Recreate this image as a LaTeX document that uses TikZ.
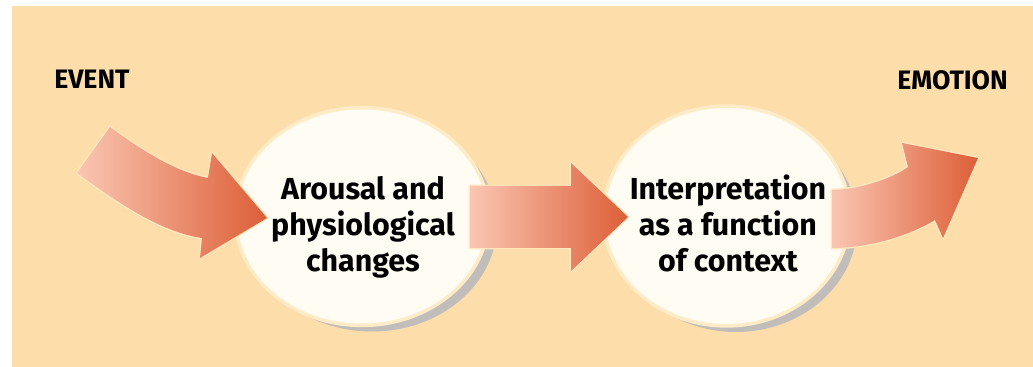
\documentclass[tikz,border=0pt]{standalone}
\usepackage{fontspec}
\setmainfont{Fira Sans}
\usetikzlibrary{shapes.geometric}
\definecolor{bgc}{RGB}{253,221,170}
\definecolor{circc}{RGB}{255,252,243}
\definecolor{haloc}{RGB}{254,236,200}
\definecolor{shadc}{RGB}{192,189,186}
\definecolor{arrlight}{RGB}{250,198,178}
\definecolor{arrdark}{RGB}{221,94,56}
\definecolor{glowc}{RGB}{254,232,188}
\begin{document}
\begin{tikzpicture}[x=0.75pt,y=-0.75pt,
  label/.style={inner sep=0pt,anchor=base west,font=\fontsize{20}{24}\selectfont\bfseries},
  stage/.style={ellipse,inner sep=0pt,fill=circc},
  shadowell/.style={ellipse,inner sep=0pt,fill=shadc},
  haloell/.style={ellipse,inner sep=0pt,fill=haloc},
  stagetext/.style={inner sep=0pt,anchor=base,align=center,font=\fontsize{22.8}{27}\selectfont\bfseries},
  blockarrow/.style={left color=arrlight,right color=arrdark,
     preaction={draw=glowc,line width=2pt,line join=round}}]
\useasboundingbox (0,0) rectangle (1033,367);
\fill[white] (0,0) rectangle (1033,367);
\fill[bgc] (12,6) rectangle (1033,367);

% labels
\node[label] (event) at (54,89) {EVENT};
\node[label] (emotion) at (897,90) {EMOTION};

% circle 1
\node[shadowell,minimum width=187.5pt,minimum height=160.5pt] (s1) at (372,224.5) {};
\node[haloell,minimum width=193pt,minimum height=166pt] (h1) at (362,216.5) {};
\node[stage,minimum width=187.5pt,minimum height=160.5pt] (c1) at (362,216.5) {};
% circle 2
\node[shadowell,minimum width=182pt,minimum height=162pt] (s2) at (736,224) {};
\node[haloell,minimum width=187.5pt,minimum height=167.5pt] (h2) at (726.5,216) {};
\node[stage,minimum width=182pt,minimum height=162pt] (c2) at (726.5,216) {};

% arrow 1 (curved, from event)
\coordinate (a1t1) at (110,127);
\coordinate (a1t2) at (77,173);
\coordinate (a1u) at (208,178);
\coordinate (a1b1) at (212,153);
\coordinate (a1tip) at (267,218);
\coordinate (a1b2) at (200,258);
\coordinate (a1l) at (202,238);
\path[blockarrow] (a1t1) .. controls (140,149) and (175,172) .. (a1u)
  -- (a1b1) -- (a1tip) -- (a1b2) -- (a1l)
  .. controls (160,232) and (117,202) .. (a1t2) -- cycle;

% arrow 2 (straight, between circles)
\path[blockarrow] (470,186) -- (571,186) -- (571,163) -- (628,217)
  -- (571,271) -- (571,248) -- (470,248) -- cycle;

% arrow 3 (curved, to emotion)
\coordinate (a3t1) at (832,190);
\coordinate (a3t2) at (832,248);
\coordinate (a3u) at (908,167);
\coordinate (a3b1) at (902,143);
\coordinate (a3tip) at (978,158);
\coordinate (a3b2) at (943,238);
\coordinate (a3l) at (935,220);
\path[blockarrow] (a3t1) .. controls (855,190) and (890,180) .. (a3u)
  -- (a3b1) -- (a3tip) -- (a3b2) -- (a3l)
  .. controls (905,238) and (865,248) .. (a3t2) -- cycle;

% stage texts
\node[stagetext] (t1) at (363,272) {Arousal and\\physiological\\changes};
\node[stagetext] (t2) at (728,272) {Interpretation\\as a function\\of context};
\end{tikzpicture}
\end{document}
